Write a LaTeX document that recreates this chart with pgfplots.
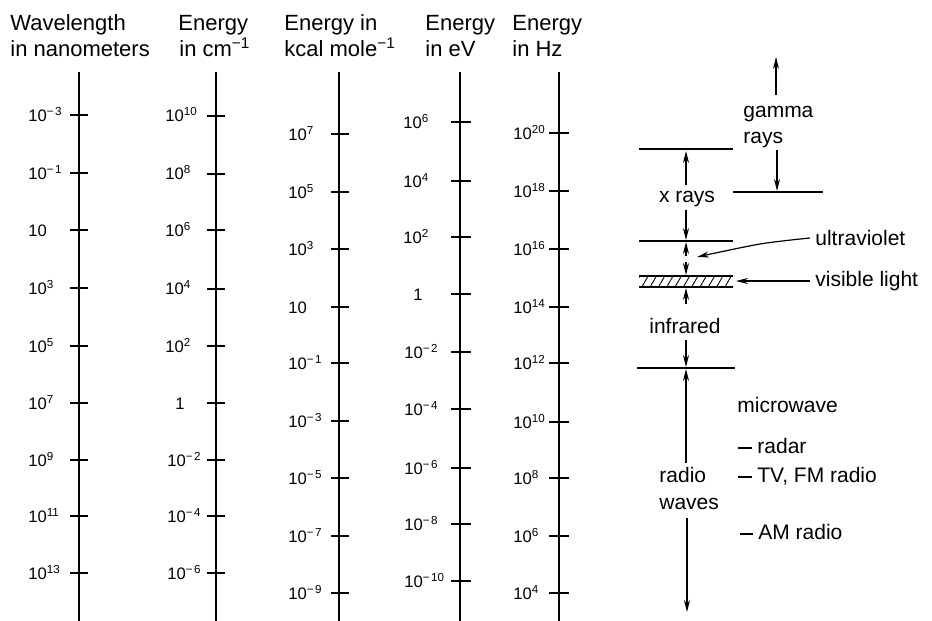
\documentclass[border=0pt]{standalone}
\usepackage{fontspec}
\setmainfont{Liberation Sans}
\usepackage{pgfplots}
\usepackage{pgfplotstable}
\pgfplotsset{compat=1.18}
\usetikzlibrary{arrows.meta,patterns.meta}

\newcommand{\hdr}{\fontsize{11}{13}\selectfont}
\newcommand{\lab}{\fontsize{8.3}{10}\selectfont}
\newcommand{\rt}{\fontsize{10.5}{12}\selectfont}
\newcommand{\tp}[1]{10\textsuperscript{#1}}
\newcommand{\tnm}[1]{\tp{−\kern0.12em#1}}

% tick positions (y in pixels from top) of each scale
\pgfplotstableread{
y
115
173
230
288
346
403
460
516
573
}\tickA
\pgfplotstableread{
y
116
174
230
289
346
403
460
516
573
}\tickB
\pgfplotstableread{
y
134
192
249
307
363
421
478
536
593
}\tickC
\pgfplotstableread{
y
122
181
237
294
352
409
468
524
581
}\tickD
\pgfplotstableread{
y
133
191
249
307
363
422
478
536
593
}\tickE

\begin{document}
\begin{tikzpicture}
\begin{axis}[
  width=466pt, height=310.5pt, scale only axis,
  xmin=0, xmax=932, ymin=0, ymax=621, y dir=reverse,
  hide axis, clip=false,
]
% scale lines
\addplot[line width=1pt] coordinates {(79,72) (79,621)};
\addplot[line width=1pt] coordinates {(216,72) (216,621)};
\addplot[line width=1pt] coordinates {(339,72) (339,621)};
\addplot[line width=1pt] coordinates {(460,72) (460,621)};
\addplot[line width=1pt] coordinates {(559,72) (559,621)};
% ticks
\addplot[only marks, mark=-, mark size=4.6pt, mark options={line width=0.8pt}] table[x expr=79, y=y] {\tickA};
\addplot[only marks, mark=-, mark size=4.6pt, mark options={line width=0.8pt}] table[x expr=216, y=y] {\tickB};
\addplot[only marks, mark=-, mark size=4.6pt, mark options={line width=0.8pt}] table[x expr=340, y=y] {\tickC};
\addplot[only marks, mark=-, mark size=4.8pt, mark options={line width=0.8pt}] table[x expr=461, y=y] {\tickD};
\addplot[only marks, mark=-, mark size=4.8pt, mark options={line width=0.8pt}] table[x expr=559, y=y] {\tickE};

% headers
\node[anchor=base west, inner sep=0pt, font=\hdr] at (axis cs:10,30) {Wavelength};
\node[anchor=base west, inner sep=0pt, font=\hdr] at (axis cs:10,56) {in nanometers};
\node[anchor=base west, inner sep=0pt, font=\hdr] at (axis cs:178,30) {Energy};
\node[anchor=base west, inner sep=0pt, font=\hdr] at (axis cs:179,56) {in cm\textsuperscript{−1}};
\node[anchor=base west, inner sep=0pt, font=\hdr] at (axis cs:284,30) {Energy in};
\node[anchor=base west, inner sep=0pt, font=\hdr] at (axis cs:284,56) {kcal mole\textsuperscript{−1}};
\node[anchor=base west, inner sep=0pt, font=\hdr] at (axis cs:425,30) {Energy};
\node[anchor=base west, inner sep=0pt, font=\hdr] at (axis cs:425,56) {in eV};
\node[anchor=base west, inner sep=0pt, font=\hdr] at (axis cs:512,30) {Energy};
\node[anchor=base west, inner sep=0pt, font=\hdr] at (axis cs:512,56) {in Hz};

% tick labels: wavelength
\node[anchor=base west, inner sep=0pt, font=\lab] at (axis cs:28,121) {\tnm{3}};
\node[anchor=base west, inner sep=0pt, font=\lab] at (axis cs:28,179) {\tnm{1}};
\node[anchor=base west, inner sep=0pt, font=\lab] at (axis cs:28,236) {10};
\node[anchor=base west, inner sep=0pt, font=\lab] at (axis cs:28,294) {\tp{3}};
\node[anchor=base west, inner sep=0pt, font=\lab] at (axis cs:28,352) {\tp{5}};
\node[anchor=base west, inner sep=0pt, font=\lab] at (axis cs:28,409) {\tp{7}};
\node[anchor=base west, inner sep=0pt, font=\lab] at (axis cs:28,466) {\tp{9}};
\node[anchor=base west, inner sep=0pt, font=\lab] at (axis cs:28,522) {\tp{11}};
\node[anchor=base west, inner sep=0pt, font=\lab] at (axis cs:28,579) {\tp{13}};
% cm^-1
\node[anchor=base west, inner sep=0pt, font=\lab] at (axis cs:165,121) {\tp{10}};
\node[anchor=base west, inner sep=0pt, font=\lab] at (axis cs:165,179) {\tp{8}};
\node[anchor=base west, inner sep=0pt, font=\lab] at (axis cs:165,236) {\tp{6}};
\node[anchor=base west, inner sep=0pt, font=\lab] at (axis cs:165,294) {\tp{4}};
\node[anchor=base west, inner sep=0pt, font=\lab] at (axis cs:165,352) {\tp{2}};
\node[anchor=base west, inner sep=0pt, font=\lab] at (axis cs:175,409) {1};
\node[anchor=base west, inner sep=0pt, font=\lab] at (axis cs:167,466) {\tnm{2}};
\node[anchor=base west, inner sep=0pt, font=\lab] at (axis cs:167,522) {\tnm{4}};
\node[anchor=base west, inner sep=0pt, font=\lab] at (axis cs:167,579) {\tnm{6}};
% kcal/mol
\node[anchor=base west, inner sep=0pt, font=\lab] at (axis cs:288,140) {\tp{7}};
\node[anchor=base west, inner sep=0pt, font=\lab] at (axis cs:288,198) {\tp{5}};
\node[anchor=base west, inner sep=0pt, font=\lab] at (axis cs:288,255) {\tp{3}};
\node[anchor=base west, inner sep=0pt, font=\lab] at (axis cs:288,313) {10};
\node[anchor=base west, inner sep=0pt, font=\lab] at (axis cs:288,369) {\tnm{1}};
\node[anchor=base west, inner sep=0pt, font=\lab] at (axis cs:288,427) {\tnm{3}};
\node[anchor=base west, inner sep=0pt, font=\lab] at (axis cs:288,484) {\tnm{5}};
\node[anchor=base west, inner sep=0pt, font=\lab] at (axis cs:288,542) {\tnm{7}};
\node[anchor=base west, inner sep=0pt, font=\lab] at (axis cs:288,599) {\tnm{9}};
% eV
\node[anchor=base west, inner sep=0pt, font=\lab] at (axis cs:403,128) {\tp{6}};
\node[anchor=base west, inner sep=0pt, font=\lab] at (axis cs:403,187) {\tp{4}};
\node[anchor=base west, inner sep=0pt, font=\lab] at (axis cs:403,243) {\tp{2}};
\node[anchor=base west, inner sep=0pt, font=\lab] at (axis cs:413,300) {1};
\node[anchor=base west, inner sep=0pt, font=\lab] at (axis cs:404,358) {\tnm{2}};
\node[anchor=base west, inner sep=0pt, font=\lab] at (axis cs:404,415) {\tnm{4}};
\node[anchor=base west, inner sep=0pt, font=\lab] at (axis cs:404,474) {\tnm{6}};
\node[anchor=base west, inner sep=0pt, font=\lab] at (axis cs:404,530) {\tnm{8}};
\node[anchor=base west, inner sep=0pt, font=\lab] at (axis cs:404,587) {\tnm{10}};
% Hz
\node[anchor=base west, inner sep=0pt, font=\lab] at (axis cs:513,139) {\tp{20}};
\node[anchor=base west, inner sep=0pt, font=\lab] at (axis cs:513,197) {\tp{18}};
\node[anchor=base west, inner sep=0pt, font=\lab] at (axis cs:513,255) {\tp{16}};
\node[anchor=base west, inner sep=0pt, font=\lab] at (axis cs:513,313) {\tp{14}};
\node[anchor=base west, inner sep=0pt, font=\lab] at (axis cs:513,369) {\tp{12}};
\node[anchor=base west, inner sep=0pt, font=\lab] at (axis cs:513,428) {\tp{10}};
\node[anchor=base west, inner sep=0pt, font=\lab] at (axis cs:513,484) {\tp{8}};
\node[anchor=base west, inner sep=0pt, font=\lab] at (axis cs:513,542) {\tp{6}};
\node[anchor=base west, inner sep=0pt, font=\lab] at (axis cs:513,599) {\tp{4}};

% region boundaries
\addplot[line width=0.6pt] coordinates {(639,149) (733,149)};
\addplot[line width=0.6pt] coordinates {(733,192) (823,192)};
\addplot[line width=0.6pt] coordinates {(639,241) (733,241)};
\addplot[line width=0.6pt] coordinates {(637,368) (735,368)};
% visible band (hatched)
\addplot[draw=none, pattern={Lines[angle=60,distance=3.6pt,line width=0.45pt]}] coordinates {(639,276) (733,276) (733,287) (639,287) (639,276)};
\addplot[line width=0.6pt] coordinates {(639,276) (733,276)};
\addplot[line width=0.6pt] coordinates {(639,287) (733,287)};

% arrows
\tikzset{ar/.style={line width=0.6pt, -{Stealth[length=6pt,width=3pt]}}}
\addplot[ar] coordinates {(776,95) (776,57)};
\addplot[ar] coordinates {(777,150) (777,191)};
\addplot[ar] coordinates {(686,185) (686,151)};
\addplot[ar] coordinates {(686,210) (686,240)};
\addplot[ar] coordinates {(686,256) (686,242)};
\addplot[ar] coordinates {(686,262) (686,275)};
\addplot[ar] coordinates {(686,304) (686,288)};
\addplot[ar] coordinates {(686,340) (686,367)};
\addplot[ar] coordinates {(686,463) (686,369)};
\addplot[ar] coordinates {(687,518) (687,612)};
% pointers
\addplot[ar, smooth] coordinates {(810,238) (760,244) (697,257)};
\addplot[ar] coordinates {(810,281) (736,281)};
% dashes of the radio bands
\addplot[line width=0.6pt] coordinates {(738,448) (752,448)};
\addplot[line width=0.6pt] coordinates {(738,477) (752,477)};
\addplot[line width=0.6pt] coordinates {(740,534) (753,534)};

% region names
\node[anchor=base west, inner sep=0pt, font=\rt] at (axis cs:743,117) {gamma};
\node[anchor=base west, inner sep=0pt, font=\rt] at (axis cs:743,143) {rays};
\node[anchor=base, inner sep=0pt, font=\rt] at (axis cs:687,202) {x rays};
\node[anchor=base west, inner sep=0pt, font=\rt] at (axis cs:815,245) {ultraviolet};
\node[anchor=base west, inner sep=0pt, font=\rt] at (axis cs:815,286) {visible light};
\node[anchor=base, inner sep=0pt, font=\rt] at (axis cs:685,333) {infrared};
\node[anchor=base west, inner sep=0pt, font=\rt] at (axis cs:737,412) {microwave};
\node[anchor=base west, inner sep=0pt, font=\rt] at (axis cs:757,453) {radar};
\node[anchor=base west, inner sep=0pt, font=\rt] at (axis cs:757,482) {TV, FM radio};
\node[anchor=base west, inner sep=0pt, font=\rt] at (axis cs:758,539) {AM radio};
\node[anchor=base west, inner sep=0pt, font=\rt] at (axis cs:659,482) {radio};
\node[anchor=base west, inner sep=0pt, font=\rt] at (axis cs:659,509) {waves};
\end{axis}
\pgfresetboundingbox
\path[use as bounding box] (current axis.south west) rectangle (current axis.north east);
\end{tikzpicture}
\end{document}
